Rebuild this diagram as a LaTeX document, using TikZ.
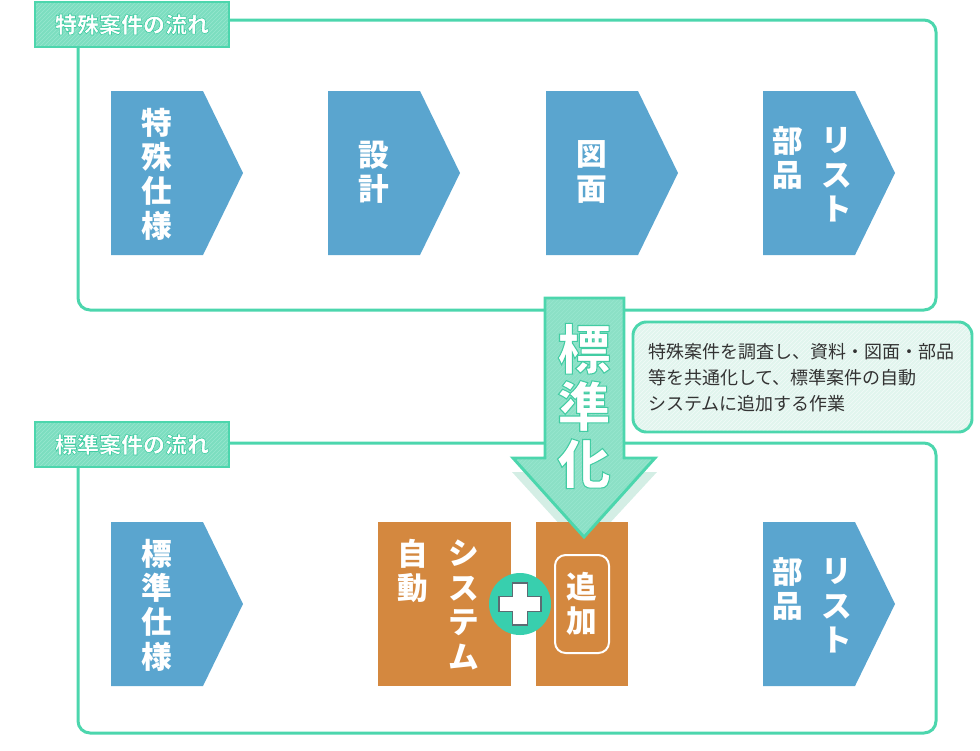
\documentclass[tikz,border=0pt]{standalone}
\usepackage{fontspec}
\newfontfamily\jp{Noto Sans CJK JP}
\usepackage{tikz}
\usetikzlibrary{calc,patterns}
\definecolor{Line}{HTML}{4CD6AD}
\definecolor{Tab}{HTML}{7CDEC0}
\definecolor{TabLine}{HTML}{98E7CF}
\definecolor{Arrow}{HTML}{8BE0C6}
\definecolor{Pale}{HTML}{E1F5EE}
\definecolor{PaleLine}{HTML}{F3FBF8}
\definecolor{Shade}{HTML}{D4EEE5}
\definecolor{Blue}{HTML}{5AA5CF}
\definecolor{Orange}{HTML}{D4883F}
\definecolor{Teal}{HTML}{38CFAE}
\definecolor{CrossLine}{HTML}{5C6B73}
\definecolor{Ink}{HTML}{333333}
% chevron: left x, top y
\newcommand\chevron[2]{\fill[Blue] (#1,#2) -- ++(92,0) -- ++(40,82) -- ++(-40,82) -- ++(-92,0) -- cycle;}
% white glyphs with a green rim: rim width, text
\newcommand\rim[2]{\special{pdf:literal direct q 2 Tr #1 w 0.26 0.80 0.64 RG}#2\special{pdf:literal direct Q}}

\begin{document}
\begin{tikzpicture}[x=0.75pt,y=-0.75pt,
frame/.style={draw=Line,line width=2.25pt,rounded corners=9pt},
tab/.style={preaction={fill=Tab},preaction={pattern=north east lines,pattern color=TabLine},draw=Line,line width=1.9pt},
vlabel/.style={font=\jp\bfseries\fontsize{23}{25.8}\selectfont,text=white,align=center,inner sep=0pt},
tablabel/.style={font=\jp\bfseries\fontsize{16.5}{18}\selectfont,text=white,inner sep=0pt},
biglabel/.style={font=\jp\bfseries\fontsize{40}{43}\selectfont,text=white,align=center,inner sep=0pt},
note/.style={font=\jp\fontsize{13.5}{19.5}\selectfont,text=Ink,align=left,inner sep=0pt,anchor=north west}]
\useasboundingbox (0,0) rectangle (980,750);

% frames and tabs
\draw[frame] (78,20) rectangle (936,310);
\draw[frame] (78,443) rectangle (936,733);
\draw[tab] (35,2) rectangle (229,47);
\draw[tab] (35,422) rectangle (229,467);
\node[tablabel] (tab1) at (132,24.5) {\rim{0.45}{特殊案件の流れ}};
\node[tablabel] (tab2) at (132,444.5) {\rim{0.45}{標準案件の流れ}};

% upper flow
\chevron{111}{91} \chevron{328}{91} \chevron{546}{91} \chevron{763}{91}
\node[vlabel] (spec) at (157,174) {特\\殊\\仕\\様};
\node[vlabel] (design) at (374,172) {設\\計};
\node[vlabel] (drawing) at (592,172) {図\\面};
\node[vlabel] (parts1) at (788,158) {部\\品};
\node[vlabel] (list1) at (837,175) {リ\\ス\\ト};

% lower flow
\chevron{111}{522} \chevron{763}{522}
\node[vlabel] (stdspec) at (157,605) {標\\準\\仕\\様};
\node[vlabel] (parts2) at (788,589) {部\\品};
\node[vlabel] (list2) at (837,606) {リ\\ス\\ト};

% shadow of the arrow head
\fill[Shade] (512,472) -- (657,472) -- (584,551) -- cycle;

% system + addition
\fill[Orange] (378,522) rectangle (511,686);
\fill[Orange] (536,522) rectangle (628,686);
\node[vlabel] (auto) at (413,571) {自\\動};
\node[vlabel] (system) at (464,605) {シ\\ス\\テ\\ム};
\node[vlabel] (add) at (582,604) {追\\加};
\draw[white,line width=1.5pt,rounded corners=8pt] (555,555) rectangle (609,653);
\node[circle,fill=Teal,minimum size=46.5pt,inner sep=0pt] (plus) at (520,604) {};
\draw[fill=white,draw=CrossLine,line width=0.8pt] (512.5,583) -- (527.5,583) -- (527.5,596.5) -- (541,596.5) -- (541,611.5) -- (527.5,611.5) -- (527.5,625) -- (512.5,625) -- (512.5,611.5) -- (499,611.5) -- (499,596.5) -- (512.5,596.5) -- cycle;

% big arrow
\draw[preaction={fill=Arrow},preaction={pattern=north east lines,pattern color=TabLine},draw=Line,line width=2.2pt,line join=miter]
  (545,298) -- (624,298) -- (624,458) -- (655,458) -- (584,537) -- (513,458) -- (545,458) -- cycle;
\node[biglabel] (std) at (584,406) {\rim{0.8}{標}\\\rim{0.8}{準}\\\rim{0.8}{化}};

% note
\draw[preaction={fill=Pale},preaction={pattern=north east lines,pattern color=PaleLine},draw=Line,line width=2.2pt,rounded corners=10pt] (633,322) rectangle (972,432);
\node[note] (memo) at (648,343) {特殊案件を調査し、資料・図面・部品\\等を共通化して、標準案件の自動\\システムに追加する作業};
\end{tikzpicture}
\end{document}
